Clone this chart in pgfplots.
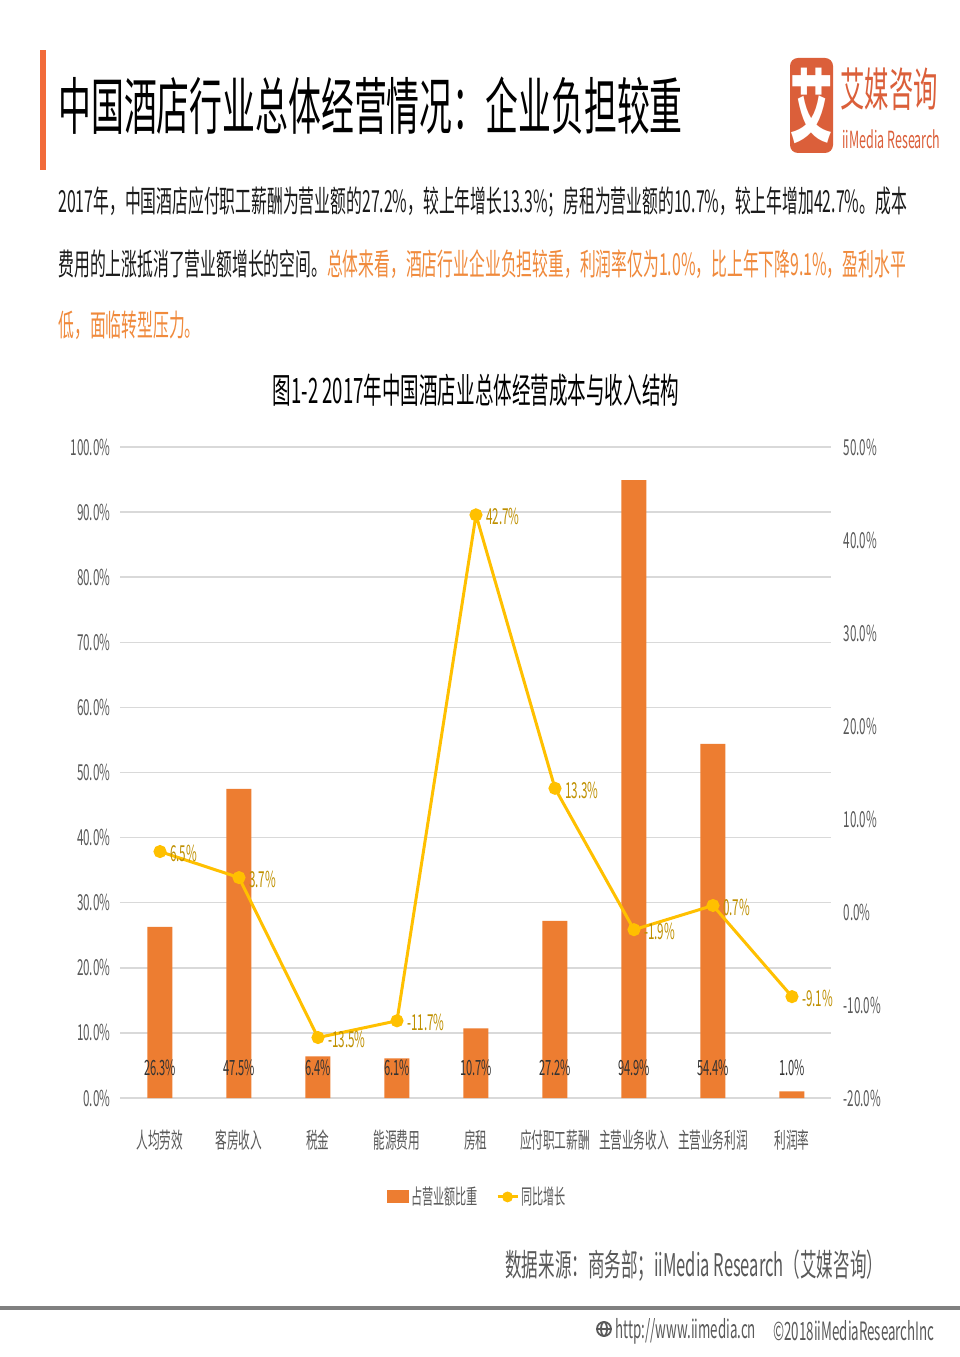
\documentclass[border=0pt]{standalone}
\usepackage{pgfplots}
\pgfplotsset{compat=1.18}
\usepackage{fontspec}
\setmainfont{Noto Sans CJK SC}[FakeStretch=0.53]
\newfontfamily\parafont{Noto Sans CJK SC}[FakeStretch=0.52]
\definecolor{barorange}{HTML}{ED7D31}
\definecolor{linegold}{HTML}{FFC000}
\definecolor{labgold}{HTML}{BF9000}
\definecolor{txtgray}{HTML}{595959}
\definecolor{gridgray}{HTML}{D9D9D9}
\definecolor{logored}{HTML}{DB5F3A}
\definecolor{titlebar}{HTML}{F26B3A}
\definecolor{paraorange}{HTML}{F08A3C}
\definecolor{bodytext}{HTML}{1A1A1A}
\newcommand\fs[1]{\fontsize{#1}{#1}\selectfont}
\begin{document}
\begin{tikzpicture}[x=0.5pt,y=0.5pt]
\useasboundingbox (0,0) rectangle (960,1357);
\fill[white] (0,0) rectangle (960,1357);
% header
\fill[titlebar] (40,{1357-50}) rectangle (46,{1357-170});
\node[anchor=west, inner sep=0, text=black] at (58,{1357-106}) {\fs{31pt}中国酒店行业总体经营情况：企业负担较重};
% logo
\fill[logored, rounded corners=4pt] (790,{1357-58}) rectangle (833,{1357-153});
\node[white, inner sep=0] at (811.5,{1357-106}) {\fs{40pt}\bfseries 艾};
\node[logored, anchor=west, inner sep=0] at (840,{1357-89}) {\fs{23pt}艾媒咨询};
\node[logored, anchor=west, inner sep=0] at (842,{1357-139}) {\fs{11.8pt}iiMedia Research};
% paragraph
\node[anchor=west, inner sep=0, text=bodytext] at (58,{1357-202}) {\parafont\fs{15.2pt}2017年，中国酒店应付职工薪酬为营业额的27.2\%，较上年增长13.3\%；房租为营业额的10.7\%，较上年增加42.7\%。成本};
\node[anchor=west, inner sep=0, text=bodytext] at (58,{1357-264}) {\parafont\fs{15.2pt}费用的上涨抵消了营业额增长的空间。{\color{paraorange}总体来看，酒店行业企业负担较重，利润率仅为1.0\%，比上年下降9.1\%，盈利水平}};
\node[anchor=west, inner sep=0, text=paraorange] at (58,{1357-325}) {\parafont\fs{15.2pt}低，面临转型压力。};
% chart title
\node[inner sep=0, text=black] at (476,{1357-390}) {\fs{17.5pt}图1-2 2017年中国酒店业总体经营成本与收入结构};
\coordinate (axorig) at (120.5,{1357-1098});
\begin{axis}[
  at={(axorig)}, anchor=south west, scale only axis,
  width=355.5pt, height=325.5pt,
  xmin=-0.5, xmax=8.5, ymin=0, ymax=100,
  xtick={0,1,2,3,4,5,6,7,8},
  xticklabels={人均劳效,客房收入,税金,能源费用,房租,应付职工薪酬,主营业务收入,主营业务利润,利润率},
  ytick={0,10,20,30,40,50,60,70,80,90,100},
  yticklabels={0.0\%,10.0\%,20.0\%,30.0\%,40.0\%,50.0\%,60.0\%,70.0\%,80.0\%,90.0\%,100.0\%},
  ymajorgrids, grid style={gridgray, line width=0.75pt},
  axis line style={draw=none}, major tick length=0pt,
  yticklabel style={font=\fs{11pt}, text=txtgray, xshift=-1.5pt},
  xticklabel style={font=\fs{11pt}, text=txtgray, yshift=-12.5pt},
  clip=false,
  legend style={at={(0.502,-0.152)}, anchor=center, draw=none, fill=none, legend columns=2,
    font=\fs{10.5pt}, text=txtgray, inner sep=0pt, nodes={inner sep=1pt},
    /tikz/every even column/.append style={column sep=8pt}},
  legend cell align=left,
]
\addplot[ybar, bar width=12.5pt, bar shift=0pt, fill=barorange, draw=none,
  legend image code/.code={\fill[barorange] (0pt,-3.25pt) rectangle (11pt,3.25pt);}] coordinates {
(0,26.3) (1,47.5) (2,6.4) (3,6.1) (4,10.7) (5,27.2) (6,94.9) (7,54.4) (8,1.0)};
\addlegendentry{占营业额比重}
\addplot[draw=none, mark=none, forget plot, point meta=explicit symbolic,
  nodes near coords={\pgfplotspointmeta\%},
  every node near coord/.append style={anchor=center, text=black!80, font=\fs{10.5pt}}]
  table[meta=lab] {
x y lab
0 4.6 26.3
1 4.6 47.5
2 4.6 6.4
3 4.6 6.1
4 4.6 10.7
5 4.6 27.2
6 4.6 94.9
7 4.6 54.4
8 4.6 1.0
};
\addlegendimage{legend image code/.code={\draw[linegold, line width=1.5pt] (0pt,0pt) -- (10pt,0pt); \fill[linegold] (5pt,0pt) circle (2.5pt);}}
\addlegendentry{同比增长}
\end{axis}
\begin{axis}[
  at={(axorig)}, anchor=south west, scale only axis,
  width=355.5pt, height=325.5pt,
  xmin=-0.5, xmax=8.5, ymin=-20, ymax=50,
  axis x line=none, axis y line*=right,
  axis line style={draw=none}, major tick length=0pt,
  ytick={-20,-10,0,10,20,30,40,50},
  yticklabels={-20.0\%,-10.0\%,0.0\%,10.0\%,20.0\%,30.0\%,40.0\%,50.0\%},
  yticklabel style={font=\fs{11pt}, text=txtgray, xshift=2.5pt},
  clip=false,
]
\addplot[linegold, line width=1.5pt, mark=*, mark size=2.5pt, point meta=explicit symbolic,
  nodes near coords={\pgfplotspointmeta\%},
  every node near coord/.append style={anchor=west, xshift=1pt, yshift=-1pt, text=labgold, font=\fs{11pt}}]
  table[meta=lab] {
x y lab
0 6.5 6.5
1 3.7 3.7
2 -13.5 -13.5
3 -11.7 -11.7
4 42.7 42.7
5 13.3 13.3
6 -1.9 -1.9
7 0.7 0.7
8 -9.1 -9.1
};
\end{axis}
% source
\node[anchor=west, inner sep=0, text=txtgray] at (505,{1357-1266}) {\fs{15.6pt}数据来源：商务部；iiMedia Research（艾媒咨询）};
% footer
\draw[line width=2pt, color=black!50] (0,{1357-1308}) -- (960,{1357-1308});
\begin{scope}[txtgray, line width=0.9pt]
\draw (604,{1357-1329}) circle (7);
\draw (604,{1357-1329}) ellipse (3 and 7);
\draw (597,{1357-1329}) -- (611,{1357-1329});
\end{scope}
\node[anchor=west, inner sep=0, text=txtgray] at (615,{1357-1331}) {\fs{12.6pt}http://www.iimedia.cn};
\node[anchor=west, inner sep=0, text=txtgray] at (773,{1357-1331}) {\fs{12.6pt}©2018iiMediaResearchInc};
\end{tikzpicture}
\end{document}
